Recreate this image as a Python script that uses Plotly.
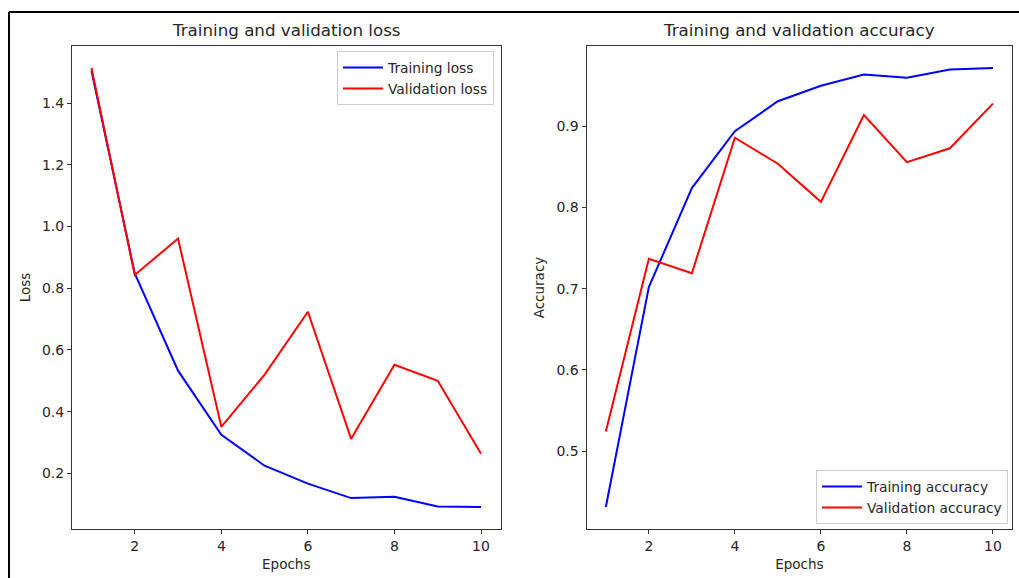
import plotly.graph_objects as go

epochs = [1, 2, 3, 4, 5, 6, 7, 8, 9, 10]
train_loss = [1.505, 0.848, 0.533, 0.325, 0.225, 0.167, 0.120, 0.124, 0.093, 0.091]
val_loss = [1.514, 0.843, 0.961, 0.351, 0.520, 0.724, 0.312, 0.552, 0.500, 0.264]
train_acc = [0.431, 0.702, 0.824, 0.894, 0.931, 0.950, 0.964, 0.960, 0.970, 0.972]
val_acc = [0.524, 0.737, 0.719, 0.886, 0.854, 0.807, 0.914, 0.856, 0.873, 0.928]

W, H = 1019, 578
FONT = "DejaVu Sans"
TXT = "#262626"

def px(x):
    return x / W

def py(y):
    return 1 - y / H

fig = go.Figure()
fig.add_trace(go.Scatter(x=epochs, y=train_loss, mode="lines", name="Training loss",
                         line=dict(color="blue", width=2), xaxis="x", yaxis="y", legend="legend"))
fig.add_trace(go.Scatter(x=epochs, y=val_loss, mode="lines", name="Validation loss",
                         line=dict(color="red", width=2), xaxis="x", yaxis="y", legend="legend"))
fig.add_trace(go.Scatter(x=epochs, y=train_acc, mode="lines", name="Training accuracy",
                         line=dict(color="blue", width=2), xaxis="x2", yaxis="y2", legend="legend2"))
fig.add_trace(go.Scatter(x=epochs, y=val_acc, mode="lines", name="Validation accuracy",
                         line=dict(color="red", width=2), xaxis="x2", yaxis="y2", legend="legend2"))

def rng(vals):
    lo, hi = min(vals), max(vals)
    m = (hi - lo) * 0.05
    return [lo - m, hi + m]

TICK = 14
LBL = 13.5
LEG = 13.8
axis_common = dict(showgrid=False, zeroline=False, showline=True, linecolor="#333333", linewidth=1,
                   mirror=True, ticks="outside", ticklen=4, tickcolor="#333333",
                   tickfont=dict(family=FONT, size=TICK, color=TXT))

loss_all = train_loss + val_loss
acc_all = train_acc + val_acc

fig.update_layout(
    width=W, height=H,
    margin=dict(l=0, r=0, t=0, b=0),
    paper_bgcolor="white", plot_bgcolor="white",
    font=dict(family=FONT, color=TXT),
    xaxis=dict(domain=[px(72), px(500.5)], range=rng(epochs), dtick=2, anchor="y",
               title=dict(text="Epochs", font=dict(family=FONT, size=LBL, color=TXT), standoff=6),
               **axis_common),
    yaxis=dict(domain=[py(529), py(46)], range=rng(loss_all), dtick=0.2, tickformat=".1f", anchor="x",
               title=dict(text="Loss", font=dict(family=FONT, size=LBL, color=TXT), standoff=8),
               **axis_common),
    xaxis2=dict(domain=[px(586.5), px(1012.3)], range=rng(epochs), dtick=2, anchor="y2",
                title=dict(text="Epochs", font=dict(family=FONT, size=LBL, color=TXT), standoff=6),
                **axis_common),
    yaxis2=dict(domain=[py(529), py(46)], range=rng(acc_all), dtick=0.1, tickformat=".1f", anchor="x2",
                title=dict(text="Accuracy", font=dict(family=FONT, size=LBL, color=TXT), standoff=8),
                **axis_common),
    legend=dict(x=px(494), y=py(51), xanchor="right", yanchor="top",
                bgcolor="rgba(255,255,255,0.8)", bordercolor="#cccccc", borderwidth=1,
                font=dict(family=FONT, size=LEG, color=TXT), tracegroupgap=0, itemwidth=40),
    legend2=dict(x=px(1008), y=py(524), xanchor="right", yanchor="bottom",
                 bgcolor="rgba(255,255,255,0.8)", bordercolor="#cccccc", borderwidth=1,
                 font=dict(family=FONT, size=LEG, color=TXT), tracegroupgap=0, itemwidth=40),
    showlegend=True,
    annotations=[
        dict(text="Training and validation loss", x=(px(72) + px(500.5)) / 2, y=py(42),
             xref="paper", yref="paper", xanchor="center", yanchor="bottom", showarrow=False,
             font=dict(family=FONT, size=16.7, color=TXT)),
        dict(text="Training and validation accuracy", x=(px(586.5) + px(1012.3)) / 2, y=py(42),
             xref="paper", yref="paper", xanchor="center", yanchor="bottom", showarrow=False,
             font=dict(family=FONT, size=16.7, color=TXT)),
    ],
    shapes=[
        dict(type="line", xref="paper", yref="paper", x0=px(9), x1=1.01, y0=py(12), y1=py(12),
             line=dict(color="black", width=2)),
        dict(type="line", xref="paper", yref="paper", x0=px(9), x1=px(9), y0=py(12), y1=-0.01,
             line=dict(color="black", width=2)),
    ],
)

fig.write_html("out.html", config={"displayModeBar": False},
               post_script="document.body.style.margin='0';document.body.style.overflow='hidden';")
